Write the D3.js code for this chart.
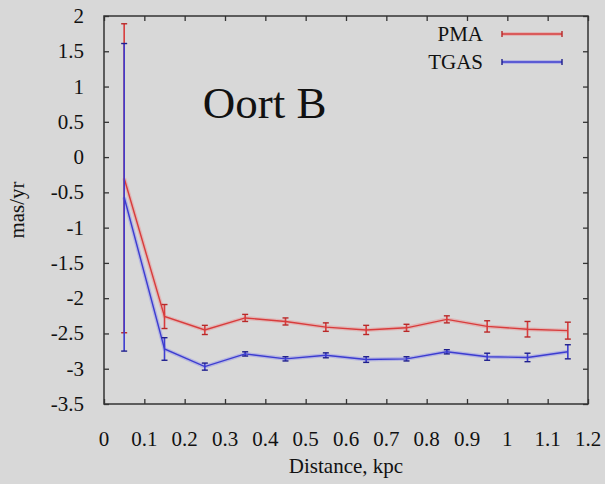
<!DOCTYPE html>
<html>
<head>
<meta charset="utf-8">
<script src="https://cdn.jsdelivr.net/npm/d3@7"></script>
<style>
  html, body { margin: 0; padding: 0; background: #d8d8d8; }
  svg { display: block; }
</style>
</head>
<body>
<svg id="chart" width="605" height="484"></svg>
<script>
// distances (kpc) of the bins
const distance = [0.05, 0.15, 0.25, 0.35, 0.45, 0.55, 0.65, 0.75, 0.85, 0.95, 1.05, 1.15];
// Oort B, mas/yr
const pmaValue = [-0.30, -2.26, -2.45, -2.28, -2.33, -2.41, -2.45, -2.42, -2.30, -2.40, -2.44, -2.46];
const pmaError = [2.19, 0.17, 0.065, 0.05, 0.05, 0.06, 0.065, 0.05, 0.05, 0.08, 0.11, 0.12];
const tgasValue = [-0.57, -2.72, -2.97, -2.79, -2.86, -2.81, -2.87, -2.86, -2.76, -2.83, -2.84, -2.76];
const tgasError = [2.18, 0.16, 0.05, 0.03, 0.03, 0.035, 0.04, 0.03, 0.03, 0.05, 0.06, 0.10];
const xTicks = [0, 0.1, 0.2, 0.3, 0.4, 0.5, 0.6, 0.7, 0.8, 0.9, 1, 1.1, 1.2];
const yTicks = [2, 1.5, 1, 0.5, 0, -0.5, -1, -1.5, -2, -2.5, -3, -3.5];

const series = [
  {name: 'PMA', values: pmaValue, errors: pmaError, line: '#d83c3c', cap: '#b82828', halo: 'rgba(240,120,120,0.35)'},
  {name: 'TGAS', values: tgasValue, errors: tgasError, line: '#3c3cd0', cap: '#1e1e8c', halo: 'rgba(120,120,240,0.35)'}
];

const serif = 'Liberation Serif';
const margin = {top: 16, right: 17, bottom: 80, left: 104};
const width = 605 - margin.left - margin.right;
const height = 484 - margin.top - margin.bottom;

const svg = d3.select('#chart');
const g = svg.append('g').attr('transform', `translate(${margin.left},${margin.top})`);

const x = d3.scaleLinear().domain([0, 1.2]).range([0, width]);
const y = d3.scaleLinear().domain([-3.5, 2]).range([height, 0]);

const fmt = d => String(d);
const tickLen = 5;

function label(sel, size) {
  return sel.style('font-family', serif).style('font-size', size + 'px').attr('fill', '#111');
}

// inward ticks on all four sides
g.append('g').attr('transform', `translate(0,${height})`)
    .call(d3.axisBottom(x).tickValues(xTicks).tickSize(-tickLen).tickFormat(''));
g.append('g')
    .call(d3.axisTop(x).tickValues(xTicks).tickSize(-tickLen).tickFormat(''));
g.append('g')
    .call(d3.axisLeft(y).tickValues(yTicks).tickSize(-tickLen).tickFormat(''));
g.append('g').attr('transform', `translate(${width},0)`)
    .call(d3.axisRight(y).tickValues(yTicks).tickSize(-tickLen).tickFormat(''));
g.selectAll('.domain').remove();
g.selectAll('.tick line').attr('stroke', '#333').attr('stroke-width', 1.3);

g.append('rect').attr('width', width).attr('height', height)
    .attr('fill', 'none').attr('stroke', '#333').attr('stroke-width', 1.5);

// tick labels
g.selectAll('.xlabel').data(xTicks).join('text')
    .attr('class', 'xlabel')
    .attr('x', d => x(d)).attr('y', height + 42)
    .attr('text-anchor', 'middle')
    .call(label, 21)
    .text(fmt);
g.selectAll('.ylabel').data(yTicks).join('text')
    .attr('class', 'ylabel')
    .attr('x', -20).attr('y', d => y(d) + 7)
    .attr('text-anchor', 'end')
    .call(label, 21)
    .text(fmt);

svg.append('text')
    .attr('x', margin.left + width / 2).attr('y', 473)
    .attr('text-anchor', 'middle')
    .call(label, 21)
    .text('Distance, kpc');
svg.append('text')
    .attr('transform', `translate(24,${margin.top + height / 2}) rotate(-90)`)
    .attr('text-anchor', 'middle')
    .call(label, 21)
    .text('mas/yr');

g.append('text')
    .attr('x', x(0.245)).attr('y', y(0.55))
    .call(label, 45)
    .text('Oort B');

// series
const line = d3.line().x(d => x(d[0])).y(d => y(d[1]));
const capW = 3;

series.forEach(s => {
  const pts = distance.map((d, i) => [d, s.values[i], s.errors[i]]);
  const sg = g.append('g');
  sg.append('path').datum(pts).attr('d', line)
      .attr('fill', 'none').attr('stroke', s.halo).attr('stroke-width', 4);
  sg.append('path').datum(pts).attr('d', line)
      .attr('fill', 'none').attr('stroke', s.line).attr('stroke-width', 1.4);
  const bars = sg.selectAll('.err').data(pts).join('g');
  bars.append('line')
      .attr('x1', d => x(d[0])).attr('x2', d => x(d[0]))
      .attr('y1', d => y(d[1] + d[2])).attr('y2', d => y(d[1] - d[2]))
      .attr('stroke', s.line).attr('stroke-width', 1.6);
  [1, -1].forEach(sign => {
    bars.append('line')
        .attr('x1', d => x(d[0]) - capW).attr('x2', d => x(d[0]) + capW)
        .attr('y1', d => y(d[1] + sign * d[2])).attr('y2', d => y(d[1] + sign * d[2]))
        .attr('stroke', s.cap).attr('stroke-width', 1.4);
  });
});

// legend
const legend = g.append('g');
series.forEach((s, i) => {
  const ly = 18 + i * 28;
  legend.append('text')
      .attr('x', 379).attr('y', ly + 7)
      .attr('text-anchor', 'end')
      .call(label, 21)
      .text(s.name);
  legend.append('line').attr('x1', 398).attr('x2', 458).attr('y1', ly).attr('y2', ly)
      .attr('stroke', s.halo).attr('stroke-width', 4);
  legend.append('line').attr('x1', 398).attr('x2', 458).attr('y1', ly).attr('y2', ly)
      .attr('stroke', s.line).attr('stroke-width', 1.4);
  [398, 458].forEach(cx => {
    legend.append('line').attr('x1', cx).attr('x2', cx).attr('y1', ly - 3).attr('y2', ly + 3)
        .attr('stroke', s.cap).attr('stroke-width', 1.4);
  });
});
</script>
</body>
</html>
